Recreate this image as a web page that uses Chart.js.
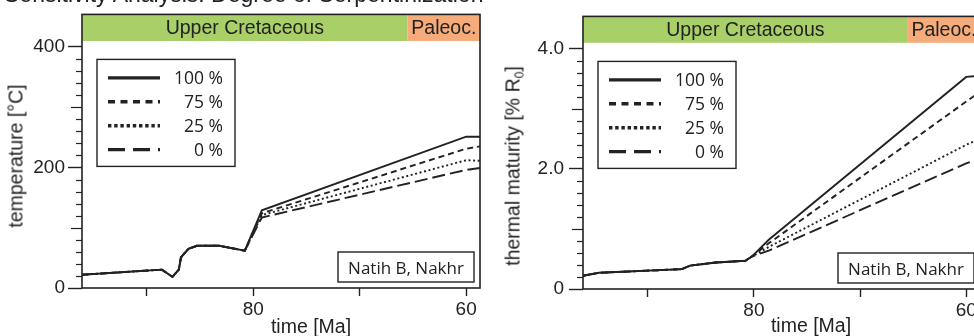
<!DOCTYPE html>
<html>
<head>
<meta charset="utf-8">
<script src="https://cdn.jsdelivr.net/npm/chart.js@4.4.1/dist/chart.umd.min.js"></script>
<style>
  body { margin: 0; width: 974px; height: 336px; overflow: hidden; background: #fff; position: relative;
         font-family: "Liberation Sans", Arial, sans-serif; color: #222; }
  .wrap { position: absolute; top: 0; height: 336px; }
  #leftWrap { left: 0; width: 490px; }
  #rightWrap { left: 490px; width: 500px; }
  .title { position: absolute; left: 4px; top: -17px; font-size: 23px; line-height: 23px; white-space: nowrap; }
  .ytitle, .xtitle { position: absolute; font-size: 19.5px; white-space: nowrap; line-height: normal; }
  .ytitle { transform: translate(-50%, -50%) rotate(-90deg); }
  .xtitle { transform: translate(-50%, -50%); }
  sub { font-size: 62%; vertical-align: -0.3em; line-height: 0; }
</style>
</head>
<body>
<div class="wrap" id="leftWrap"><canvas id="tempChart" width="490" height="336"></canvas></div>
<div class="wrap" id="rightWrap"><canvas id="maturityChart" width="500" height="336"></canvas></div>

<div class="title">Sensitivity Analysis: Degree of Serpentinization</div>
<div class="ytitle" style="left:16px; top:156px;">temperature [°C]</div>
<div class="xtitle" style="left:311px; top:326px;">time [Ma]</div>
<div class="ytitle" style="left:513px; top:166px;">thermal maturity [% R<sub>0</sub>]</div>
<div class="xtitle" style="left:811px; top:325px;">time [Ma]</div>

<script>
// axis ticks
const timeTicks = [90, 80, 70, 60];
const timeTickLabels = ["", "80", "", "60"];
const tempTicks = [0, 200, 400];
const maturityTicks = [0, 2, 4];
const maturityTickLabels = ["0", "2.0", "4.0"];

// legend entries (degree of serpentinization)
const seriesNames = ["100 %", "75 %", "25 %", "0 %"];

// stratigraphy band
const epochNames = ["Upper Cretaceous", "Paleoc."];
const epochOlder = [100.5, 65.5];
const epochYounger = [65.5, 56];

// temperature: shared burial history, then one branch per scenario
const tempHistTime = [96.1, 88.6, 87.6, 87.0, 86.8, 86.1, 85.3, 83.2, 80.8];
const tempHist = [22, 30.5, 18.5, 30.5, 51, 65, 70, 70, 62];
const tempBranchTime = [79.2, 60.0, 58.7];
const temp100 = [129, 251, 251];
const temp75 = [124, 231, 235];
const temp25 = [121, 212, 211];
const temp0 = [117, 196, 199];

// thermal maturity (% Ro)
const matHistTime = [96.1, 94.6, 86.8, 86.0, 83.6, 80.8, 80.2];
const matHist = [0.22, 0.27, 0.33, 0.39, 0.44, 0.47, 0.54];
const matBranchTime = [78.6, 60.0, 58.7];
const mat100 = [0.82, 3.53, 3.55];
const mat75 = [0.76, 3.12, 3.28];
const mat25 = [0.70, 2.40, 2.50];
const mat0 = [0.64, 2.09, 2.18];

const inkColor = "#222";
const epochColors = ["#a8cf68", "#f6ab7a"];
const lineDash = [[], [6, 4], [2, 2.6], [13, 5]];
const legendDash = [[], [7, 5.5], [3.4, 2.8], [17, 8]];
const tickFont = { family: '"Liberation Sans", Arial, sans-serif', size: 19 };

function series(histT, histV, branchT, branchV) {
  return histT.map((t, i) => ({ x: t, y: histV[i] }))
    .concat(branchT.map((t, i) => ({ x: t, y: branchV[i] })));
}

const decorPlugin = {
  id: "decor",
  beforeDatasetsDraw(chart, args, o) {
    const { ctx, chartArea: a } = chart;
    const x = chart.scales.x, y = chart.scales.y;
    const bandBottom = y.getPixelForValue(o.bandFrom);
    ctx.save();
    epochNames.forEach((name, i) => {
      const p1 = x.getPixelForValue(epochOlder[i]);
      const p2 = x.getPixelForValue(epochYounger[i]);
      const x0 = Math.max(a.left, Math.min(p1, p2));
      const x1 = Math.min(a.right, Math.max(p1, p2));
      if (x1 <= x0) return;
      ctx.fillStyle = epochColors[i];
      ctx.fillRect(x0, a.top, x1 - x0, bandBottom - a.top);
      ctx.fillStyle = inkColor;
      ctx.font = '19.5px "Liberation Sans", Arial, sans-serif';
      ctx.textAlign = "center";
      ctx.textBaseline = "alphabetic";
      ctx.fillText(name, (x0 + x1) / 2, bandBottom - 6.5);
    });
    ctx.restore();
  },
  afterDraw(chart, args, o) {
    const { ctx, chartArea: a } = chart;
    const y = chart.scales.y;
    ctx.save();
    ctx.strokeStyle = inkColor;
    ctx.fillStyle = inkColor;

    // minor and medium ticks on the y axis
    ctx.lineWidth = 1.2;
    const n = Math.round(o.minor.max / o.minor.step);
    for (let i = 0; i <= n; i++) {
      if (i % o.minor.majorEvery === 0) continue;
      const len = i % o.minor.mediumEvery === 0 ? 11 : 6;
      const py = Math.round(y.getPixelForValue(i * o.minor.step)) + 0.5;
      ctx.beginPath();
      ctx.moveTo(a.left - len, py);
      ctx.lineTo(a.left, py);
      ctx.stroke();
    }

    // legend box
    const lx = a.left + 15, ly = a.top + 45;
    ctx.fillStyle = "#fff";
    ctx.fillRect(lx, ly, 138, 107);
    ctx.lineWidth = 1.4;
    ctx.strokeRect(lx, ly, 138, 107);
    chart.data.datasets.forEach((ds, i) => {
      const ry = ly + 18.5 + i * 23.9;
      ctx.setLineDash(legendDash[i]);
      ctx.lineWidth = 3.4;
      ctx.beginPath();
      ctx.moveTo(lx + 11, ry);
      ctx.lineTo(lx + 63, ry);
      ctx.stroke();
      ctx.setLineDash([]);
      ctx.fillStyle = inkColor;
      ctx.font = '17.5px "Open Sans", sans-serif';
      ctx.textAlign = "right";
      ctx.textBaseline = "alphabetic";
      ctx.fillText(ds.label, lx + 126, ry + 6.5);
    });

    // well / formation tag
    const tx = a.right - 6 - 136, ty = a.bottom - 6 - 30;
    ctx.fillStyle = "#fff";
    ctx.fillRect(tx, ty, 136, 30);
    ctx.lineWidth = 1.4;
    ctx.strokeRect(tx, ty, 136, 30);
    ctx.fillStyle = inkColor;
    ctx.font = '17px "Open Sans", sans-serif';
    ctx.textAlign = "center";
    ctx.fillText(o.tag, tx + 68, ty + 21.5);

    // frame
    ctx.lineWidth = 1.6;
    ctx.strokeRect(a.left, a.top, a.width, a.height);
    ctx.restore();
  }
};

function makeChart(id, datasetsData, yMax, yTicks, yLabel, yAxisWidth, xAxisHeight, rightPad, labelPad, decor) {
  return new Chart(document.getElementById(id), {
    type: "line",
    data: {
      datasets: datasetsData.map((d, i) => ({
        label: seriesNames[i],
        data: d,
        borderColor: inkColor,
        borderWidth: 1.9,
        borderDash: lineDash[i],
        pointRadius: 0,
        fill: false,
        tension: 0
      }))
    },
    options: {
      responsive: false,
      animation: false,
      layout: { padding: { top: 10, right: rightPad, left: 0, bottom: 0 } },
      plugins: { legend: { display: false }, tooltip: { enabled: false }, decor: decor },
      scales: {
        x: {
          type: "linear",
          min: 58.7,
          max: 96.1,
          reverse: true,
          afterBuildTicks: s => { s.ticks = timeTicks.map(v => ({ value: v })); },
          afterFit: s => { s.height = xAxisHeight; },
          ticks: {
            autoSkip: false, maxRotation: 0, padding: 2,
            font: tickFont, color: inkColor,
            callback: v => timeTickLabels[timeTicks.indexOf(v)]
          },
          grid: { drawOnChartArea: false, drawTicks: true, tickLength: 8, tickWidth: 1.4, tickColor: inkColor },
          border: { display: false }
        },
        y: {
          type: "linear",
          min: 0,
          max: yMax,
          afterBuildTicks: s => { s.ticks = yTicks.map(v => ({ value: v })); },
          afterFit: s => { s.width = yAxisWidth; },
          ticks: {
            autoSkip: false, padding: labelPad,
            font: tickFont, color: inkColor,
            callback: yLabel
          },
          grid: { drawOnChartArea: false, drawTicks: true, tickLength: 14, tickWidth: 1.4, tickColor: inkColor },
          border: { display: false }
        }
      }
    },
    plugins: [decorPlugin]
  });
}

makeChart("tempChart",
  [
    series(tempHistTime, tempHist, tempBranchTime, temp100),
    series(tempHistTime, tempHist, tempBranchTime, temp75),
    series(tempHistTime, tempHist, tempBranchTime, temp25),
    series(tempHistTime, tempHist, tempBranchTime, temp0)
  ],
  453.9, tempTicks, v => String(v), 82, 48, 10, 3,
  { bandFrom: 409.8, tag: "Natih B, Nakhr", minor: { step: 20, max: 400, majorEvery: 10, mediumEvery: 5 } }
);

makeChart("maturityChart",
  [
    series(matHistTime, matHist, matBranchTime, mat100),
    series(matHistTime, matHist, matBranchTime, mat75),
    series(matHistTime, matHist, matBranchTime, mat25),
    series(matHistTime, matHist, matBranchTime, mat0)
  ],
  4.537, maturityTicks, v => maturityTickLabels[maturityTicks.indexOf(v)], 93, 47, 10, 5,
  { bandFrom: 4.098, tag: "Natih B, Nakhr", minor: { step: 0.2, max: 4, majorEvery: 10, mediumEvery: 5 } }
);
</script>
</body>
</html>
